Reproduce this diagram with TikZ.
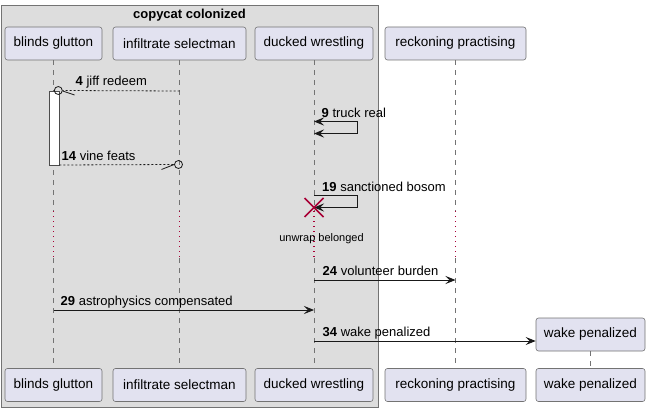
\documentclass[tikz,border=0pt]{standalone}
\usepackage{fontspec}
\setmainfont{Liberation Sans}
\usetikzlibrary{arrows.meta,calc}
\definecolor{pbox}{HTML}{E2E2F0}
\definecolor{grp}{HTML}{DDDDDD}
\definecolor{dred}{HTML}{A80036}
\begin{document}
\begin{tikzpicture}[x=1pt,y=-1pt,
  part/.style={draw=black!55, fill=pbox, rounded corners=2.5pt, minimum height=33pt,
    inner sep=0pt, line width=0.6pt, font=\fontsize{13.5}{16}\selectfont},
  life/.style={draw=black!55, line width=0.6pt, dash pattern=on 5pt off 5pt},
  delayline/.style={draw=dred, line width=1.1pt, dash pattern=on 1.3pt off 3.7pt},
  msg/.style={draw=black!90, line width=0.8pt},
  tip/.style={-{Stealth[length=10pt,width=8pt,inset=4pt]}},
  dots/.style={draw=black!90, line width=0.8pt, dash pattern=on 2pt off 2pt},
  lbl/.style={anchor=base west, inner sep=0pt, font=\fontsize{13}{15}\selectfont},
]
\useasboundingbox (0,0) rectangle (650,412);
% group box
\draw[draw=black!55, fill=grp, line width=0.7pt] (1,5) rectangle (378,407);
\node[anchor=base, inner sep=0pt, font=\bfseries\fontsize{13}{15}\selectfont] (gtitle) at (189.5,19) {copycat colonized};

% participants
\node[part, minimum width=97pt] (bgT) at (53.5,43.5) {blinds glutton};
\node[part, minimum width=133pt] (isT) at (179.5,43.5) {infiltrate selectman};
\node[part, minimum width=118pt] (dwT) at (314,43.5) {ducked wrestling};
\node[part, minimum width=141pt] (rpT) at (455.5,43.5) {reckoning practising};
\node[part, minimum width=97pt] (bgB) at (53.5,385) {blinds glutton};
\node[part, minimum width=133pt] (isB) at (179.5,385) {infiltrate selectman};
\node[part, minimum width=118pt] (dwB) at (314,385) {ducked wrestling};
\node[part, minimum width=141pt] (rpB) at (455.5,385) {reckoning practising};
\node[part, minimum width=109pt] (wpT) at (590.5,334.5) {wake penalized};
\node[part, minimum width=109pt] (wpB) at (590.5,385) {wake penalized};

% lifelines with delay section
\foreach \p/\q in {bg/bgB, is/isB, dw/dwB, rp/rpB}{
  \coordinate (\p d1) at (\p T.south |- 0,211);
  \coordinate (\p d2) at (\p T.south |- 0,258);
  \draw[life] (\p T.south) -- (\p d1);
  \draw[delayline] (\p d1) -- (\p d2);
  \draw[life] (\p d2) -- (\q.north);
}
\draw[life] (wpT.south) -- (wpB.north);

% activation on blinds glutton
\node[draw=black!70, fill=white, line width=0.6pt, minimum width=10pt, minimum height=74pt, inner sep=0pt] (act) at (54,128) {};

% message 4: jiff redeem
\coordinate (m4s) at (isT.south |- 0,91);
\node[draw=black!90, line width=0.8pt, circle, minimum size=8pt, inner sep=0pt] (c4) at (58.3,90.5) {};
\draw[dots] (m4s) -- (c4.east);
\coordinate (h4) at (74.5,95);
\draw[msg] (c4.east) ++(0,0.5) -- (h4);
\node[lbl] (l4) at (75.5,85.5) {\textbf{4} jiff redeem};

% message 14: vine feats
\node[draw=black!90, line width=0.8pt, circle, minimum size=8pt, inner sep=0pt] (c14) at (178.5,164.5) {};
\coordinate (m14s) at (act.east |- 0,165);
\draw[dots] (m14s) -- (c14.west);
\coordinate (h14) at (161.5,169.5);
\draw[msg] (h14) -- (c14.west);
\node[lbl] (l14) at (61.5,160) {\textbf{14} vine feats};

% message 9: truck real (self)
\coordinate (m9a) at (dwT.south |- 0,121.5);
\coordinate (m9b) at (dwT.south |- 0,133.5);
\draw[msg, {Stealth[length=10pt,width=8pt,inset=4pt]}-{Stealth[length=10pt,width=8pt,inset=4pt]}]
  (m9a) -- ++(43,0) |- (m9b);
\node[lbl] (l9) at (321.5,117) {\textbf{9} truck real};

% message 19: sanctioned bosom (self) + destroy
\coordinate (m19a) at (dwT.south |- 0,195.5);
\coordinate (m19b) at (dwT.south |- 0,207.5);
\draw[msg, tip] (m19a) -- ++(43,0) |- (m19b);
\node[lbl] (l19) at (322,191) {\textbf{19} sanctioned bosom};
\draw[dred, line width=1.6pt] ($(m19b)+(-9.5,-9.5)$) -- ($(m19b)+(9.5,9.5)$);
\draw[dred, line width=1.6pt] ($(m19b)+(-9.5,9.5)$) -- ($(m19b)+(9.5,-9.5)$);

% delay text
\node[inner sep=0pt, font=\fontsize{11}{13}\selectfont] (delay) at (321.5,239) {unwrap belonged};

% message 24
\coordinate (m24a) at (dwT.south |- 0,280);
\coordinate (m24b) at (rpT.south |- 0,280);
\draw[msg, tip] (m24a) -- (m24b);
\node[lbl] (l24) at (322.5,275) {\textbf{24} volunteer burden};

% message 29
\coordinate (m29a) at (bgT.south |- 0,310);
\coordinate (m29b) at (dwT.south |- 0,310);
\draw[msg, tip] (m29a) -- (m29b);
\node[lbl] (l29) at (60.5,305) {\textbf{29} astrophysics compensated};

% message 34
\coordinate (m34a) at (dwT.south |- 0,341);
\coordinate (m34b) at (wpT.west |- 0,341);
\draw[msg, tip] (m34a) -- (m34b);
\node[lbl] (l34) at (322.5,336) {\textbf{34} wake penalized};
\end{tikzpicture}
\end{document}
